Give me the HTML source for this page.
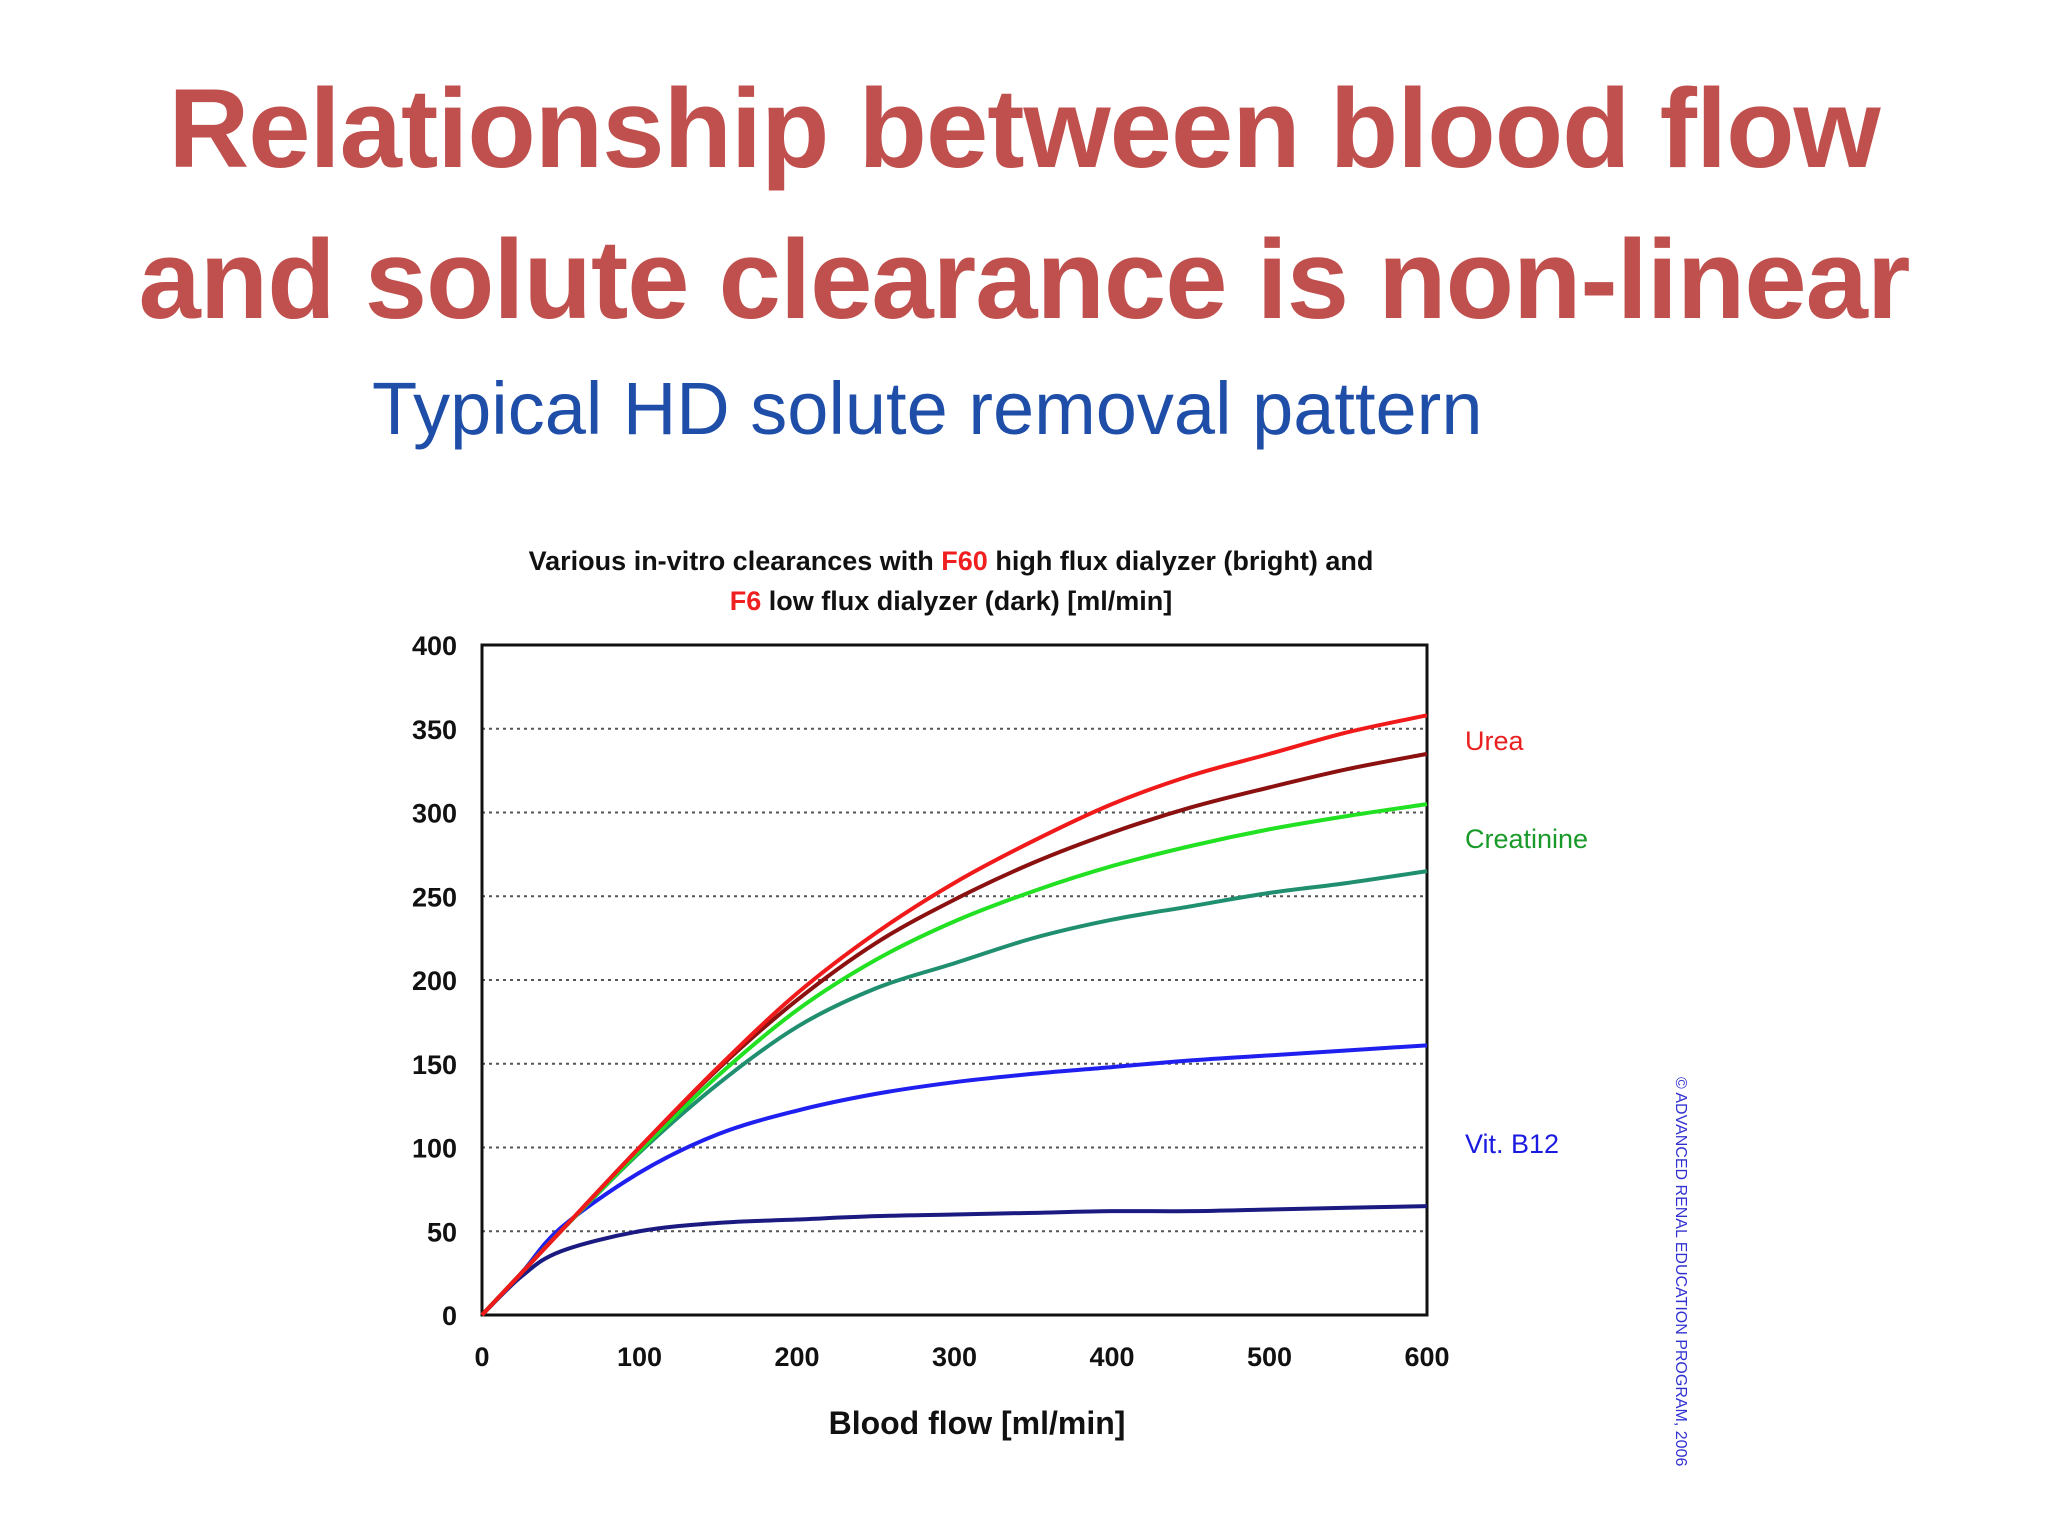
<!DOCTYPE html>
<html><head><meta charset="utf-8"><style>
body{margin:0;background:#fff;width:2048px;height:1536px;overflow:hidden;position:relative;font-family:"Liberation Sans",sans-serif}
.t{position:absolute;left:0;width:2048px;text-align:center;color:#c0504d;font-weight:bold;font-size:112px;letter-spacing:-1px}
</style></head><body>
<div class="t" style="top:64px">Relationship between blood flow</div>
<div class="t" style="top:215px">and solute clearance is non-linear</div>
<div style="position:absolute;left:372px;top:366px;font-size:74px;color:#1f4ea8">Typical HD solute removal pattern</div>
<svg id="c" width="2048" height="1536" style="position:absolute;left:0;top:0"></svg>
<script>
const xs=[0,25,50,100,150,200,250,300,350,400,450,500,550,600];
const ureaF60=[0,25,50,100,148,192,228,258,283,305,322,335,348,358];
const ureaF6=[0,25,50,100,147,188,222,248,270,288,303,315,326,335];
const creatF60=[0,25,50,98,143,182,212,235,253,268,280,290,298,305];
const creatF6=[0,25,50,97,138,172,195,210,225,236,244,252,258,265];
const b12F60=[0,25,52,85,108,122,132,139,144,148,152,155,158,161];
const b12F6=[0,23,38,50,55,57,59,60,61,62,62,63,64,65];
const yTicks=[0,50,100,150,200,250,300,350,400];
const xTicks=[0,100,200,300,400,500,600];
const L=482,R=1427,T=645,B=1315;
const X=v=>L+v/600*(R-L), Y=v=>B-v/400*(B-T);
const s=document.getElementById('c'),NS='http://www.w3.org/2000/svg';
function el(t,a,txt){const e=document.createElementNS(NS,t);for(const k in a)e.setAttribute(k,a[k]);if(txt!=null)e.textContent=txt;s.appendChild(e);return e;}
let e;
yTicks.forEach(v=>{
 if(v>0&&v<400){e=el('line',{x1:L,x2:R,y1:Y(v),y2:Y(v),stroke:'#555','stroke-width':2,'stroke-dasharray':'3,4'});
 
 }
 e=el('text',{x:457,y:Y(v)+10,'text-anchor':'end','font-size':27,'font-weight':'bold',fill:'#111'},v);
 
 
});
xTicks.forEach(v=>{
 e=el('text',{x:X(v),y:1366,'text-anchor':'middle','font-size':27,'font-weight':'bold',fill:'#111'},v);
 
 
});
e=el('rect',{x:L,y:T,width:R-L,height:B-T,fill:'none',stroke:'#111','stroke-width':3});


function path(ys,col,name){
 const p=xs.map((x,i)=>[X(x),Y(ys[i])]);let d='M'+p[0][0]+','+p[0][1];
 for(let i=0;i<p.length-1;i++){const p0=p[Math.max(i-1,0)],p1=p[i],p2=p[i+1],p3=p[Math.min(i+2,p.length-1)];
  d+=` C${p1[0]+(p2[0]-p0[0])/6},${p1[1]+(p2[1]-p0[1])/6} ${p2[0]-(p3[0]-p1[0])/6},${p2[1]-(p3[1]-p1[1])/6} ${p2[0]},${p2[1]}`;}
 e=el('path',{d:d,fill:'none',stroke:col,'stroke-width':4});
 
 
}
path(b12F6,'#1a1a80','line-b12-f6');
path(b12F60,'#1f1ff0','line-b12-f60');
path(creatF6,'#1f8f6f','line-creatinine-f6');
path(creatF60,'#22e022','line-creatinine-f60');
path(ureaF6,'#8b1010','line-urea-f6');
path(ureaF60,'#f01a1a','line-urea-f60');
function txt(x,y,t,a,name){e=el('text',Object.assign({x:x,y:y},a),t);return e;}
txt(1465,750,'Urea',{'font-size':27,fill:'#e82020'},'label-urea');
txt(1465,848,'Creatinine',{'font-size':27,fill:'#1a9a2a'},'label-creatinine');
txt(1465,1153,'Vit. B12',{'font-size':27,fill:'#1a1ae0'},'label-vitb12');
e=txt(951,570,'',{'font-size':27,'font-weight':'bold','text-anchor':'middle',fill:'#111'},'chart-title-line1');
e.innerHTML='Various in-vitro clearances with <tspan fill="#f02020">F60</tspan> high flux dialyzer (bright) and';
e=txt(951,610,'',{'font-size':27,'font-weight':'bold','text-anchor':'middle',fill:'#111'},'chart-title-line2');
e.innerHTML='<tspan fill="#f02020">F6</tspan> low flux dialyzer (dark) [ml/min]';
txt(977,1434,'Blood flow [ml/min]',{'font-size':32,'font-weight':'bold','text-anchor':'middle',fill:'#111'},'x-axis-title');
txt(1676,1077,'© ADVANCED RENAL EDUCATION PROGRAM, 2006',{'font-size':16,fill:'#3030d0',transform:'rotate(90 1676 1077)'},'copyright-note');
</script>
</body></html>
